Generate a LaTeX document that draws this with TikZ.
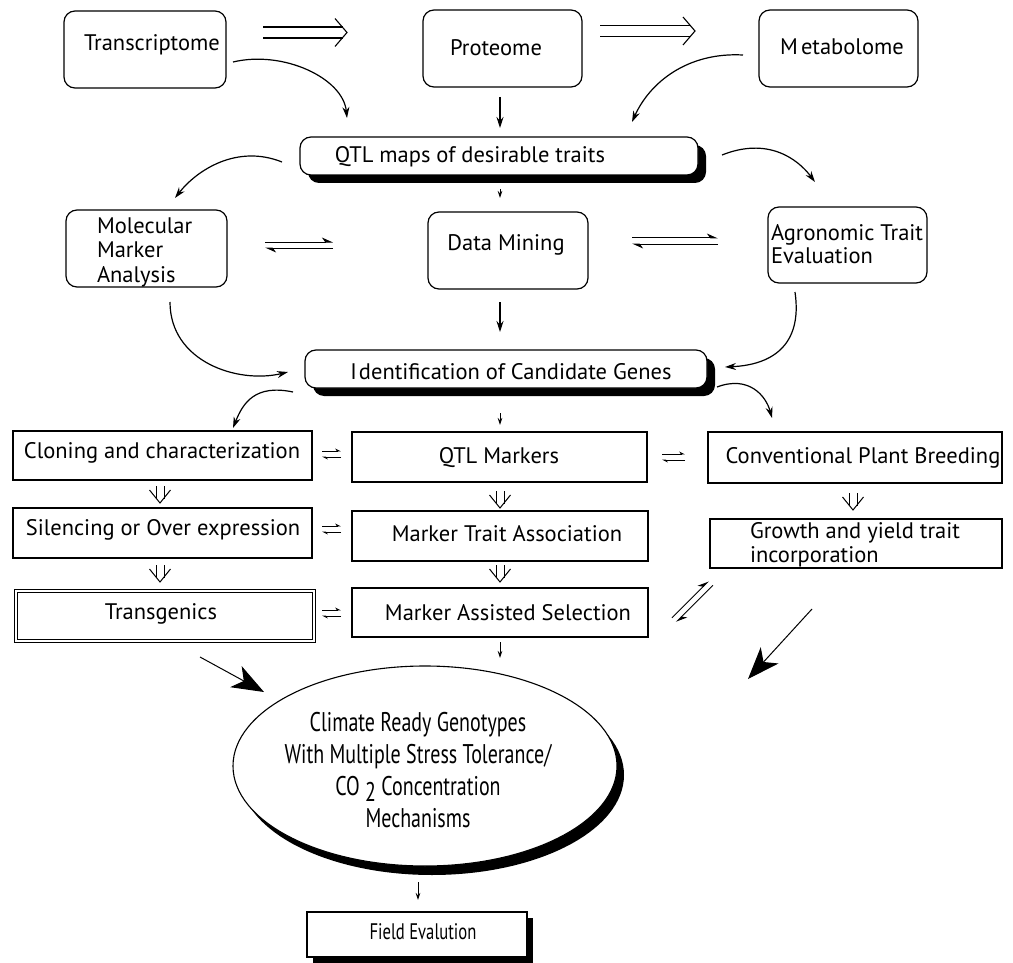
\documentclass[tikz,border=0pt]{standalone}
\usepackage{fontspec}
\setmainfont{PT Sans}
\newfontfamily\condensed[FakeStretch=0.74]{PT Sans}
\usetikzlibrary{arrows.meta,shapes.geometric,shadows}

\begin{document}
\begin{tikzpicture}[x=1pt,y=-1pt,
  every node/.style={inner sep=0pt, outer sep=0pt},
  font=\fontsize{22.5}{25}\selectfont,
  rbox/.style={draw, line width=1.2pt, rounded corners=11pt, fill=white},
  sbox/.style={draw, line width=1.2pt, fill=white},
  heavyshadow/.style={general shadow={shadow xshift=8pt, shadow yshift=-8pt, fill=black}},
  arr/.style={line width=1.2pt, -{Stealth[length=11pt,width=7pt]}},
  tinyarr/.style={line width=0.8pt, -{Stealth[length=7pt,width=4.5pt]}},
  harp/.style={line width=1pt, -{Stealth[harpoon,length=10pt,width=9pt]}},
  smallharp/.style={line width=0.8pt, -{Stealth[harpoon,length=5pt,width=5pt]}},
  bigarr/.style={line width=1pt, -{Stealth[length=32pt,width=24pt,inset=9pt]}},
  pics/dblright/.style={code={
    \draw[line width=1.1pt] (0,-5.5) -- (#1-4,-5.5) (0,5.5) -- (#1-4,5.5);
    \draw[line width=1.1pt] (#1-12,-14) -- (#1,0) -- (#1-12,14);}},
  pics/dbldown/.style={code={
    \draw[line width=1pt] (-4,0) -- (-4,13) (4,0) -- (4,13);
    \draw[line width=1pt] (-10.5,4) -- (0,17) -- (10.5,4);}},
  pics/equil/.style={code={
    \draw[harp] (0,-3) -- (#1,-3);
    \draw[harp] (#1,3) -- (0,3);}},
  pics/smallequil/.style={code={
    \draw[smallharp] (0,-3) -- (#1,-3);
    \draw[smallharp] (#1,3) -- (0,3);}},
]
\useasboundingbox (0,0) rectangle (1013,963);

% ---- omics row
\node[rbox, minimum width=162pt, minimum height=77pt] (trans) at (145,49.5) {};
\node[anchor=mid west] (transtxt) at (84,48) {Transcriptome};
\node[rbox, minimum width=159pt, minimum height=77pt] (prot) at (502.5,48.5) {};
\node (prottxt) at (496,48) {Proteome};
\node[rbox, minimum width=159pt, minimum height=77pt] (meta) at (838.5,48.5) {};
\node (metatxt) at (842,47) {M\kern3pt etabolome};

\pic at (263,32.5) {dblright=84};
\pic at (600,31) {dblright=95};

% ---- QTL maps
\node[rbox, heavyshadow, minimum width=398pt, minimum height=38pt] (qtl) at (499,156) {};
\node (qtltxt) at (470,157) {QTL maps of desirable traits};

% ---- second row
\node[rbox, minimum width=161pt, minimum height=77pt] (mol) at (146.5,248.5) {};
\node[anchor=west, align=left, font=\fontsize{22.5}{24.5}\selectfont] (moltxt) at (97,252) {Molecular\\Marker\\Analysis};
\node[rbox, minimum width=160pt, minimum height=77pt] (dm) at (508,250.5) {};
\node (dmtxt) at (506,245) {Data Mining};
\node[rbox, minimum width=159pt, minimum height=76pt] (agro) at (847.5,245) {};
\node[anchor=west, align=left, font=\fontsize{22.5}{23}\selectfont] (agrotxt) at (771,244) {Agronomic Trait\\Evaluation};

\pic at (265,245) {equil=68};
\pic at (632,241) {equil=86};

% ---- candidate genes
\node[rbox, heavyshadow, minimum width=402pt, minimum height=38pt] (ident) at (506,369) {};
\node (identtxt) at (511,372) {I\kern2pt dentification of Candidate Genes};

% ---- three columns of rectangles
\node[sbox, minimum width=299pt, minimum height=49pt] (clon) at (162.5,455.5) {};
\node (clontxt) at (162,453) {Cloning and characterization};
\node[sbox, minimum width=295pt, minimum height=50pt] (qtlm) at (499.5,457) {};
\node (qtlmtxt) at (499,458) {QTL Markers};
\node[sbox, minimum width=294pt, minimum height=51pt] (conv) at (855,457.5) {};
\node (convtxt) at (863,458) {Conventional Plant Breeding};

\node[sbox, minimum width=299pt, minimum height=50pt] (sil) at (162.5,533) {};
\node (siltxt) at (163,530) {Silencing or Over expression};
\node[sbox, minimum width=296pt, minimum height=50pt] (mta) at (500,536) {};
\node (mtatxt) at (507,534) {Marker Trait Association};
\node[sbox, minimum width=292pt, minimum height=49pt] (grow) at (856,543.5) {};
\node[anchor=west, align=left, font=\fontsize{22.5}{24}\selectfont] (growtxt) at (750,545) {Growth and yield trait\\incorporation};

\node[draw, fill=white, line width=0.9pt, double, double distance=2.2pt,
      minimum width=298pt, minimum height=50pt] (tgen) at (165,616) {};
\node (tgentxt) at (161,614) {Transgenics};
\node[sbox, minimum width=296pt, minimum height=49pt] (mas) at (500,612.5) {};
\node (mastxt) at (508,613) {Marker Assisted Selection};

\pic at (322,454) {smallequil=19};
\pic at (662,457) {smallequil=23};
\pic at (322,529) {smallequil=19};
\pic at (322,613) {smallequil=19};
\pic[rotate=45] at (674,620) {equil=52};

\pic at (160,486) {dbldown};
\pic at (500,491) {dbldown};
\pic at (853,493) {dbldown};
\pic at (160,565) {dbldown};
\pic at (500,565) {dbldown};

% ---- outcome
\node[ellipse, draw, fill=white, line width=1.1pt, minimum width=384pt, minimum height=200pt,
      general shadow={shadow xshift=7pt, shadow yshift=-9pt, fill=black}] (crg) at (425,766) {};
\node[align=center, font=\condensed\fontsize{27}{32}\selectfont] (crgtxt) at (418,770)
  {Climate Ready Genotypes\\With Multiple Stress Tolerance/\\CO \raisebox{-6pt}{2} Concentration\\Mechanisms};

\node[sbox, general shadow={shadow xshift=6pt, shadow yshift=-6pt, fill=black},
      minimum width=220pt, minimum height=45pt] (field) at (417,934.5) {};
\node[font=\condensed\fontsize{22.5}{26}\selectfont] (fieldtxt) at (423,932) {Field Evalution};

% ---- connector end points
\coordinate (c1a) at (233,62);  \coordinate (c1b) at (347,118);
\coordinate (c2a) at (743,55);  \coordinate (c2b) at (632,122);
\coordinate (c3a) at (282,162); \coordinate (c3b) at (175,198);
\coordinate (c4a) at (722,155); \coordinate (c4b) at (815,182);
\coordinate (c5a) at (170,302); \coordinate (c5b) at (288,372);
\coordinate (c6a) at (795,292); \coordinate (c6b) at (725,367);
\coordinate (c7a) at (293,392); \coordinate (c7b) at (233,428);
\coordinate (c8a) at (717,387); \coordinate (c8b) at (772,418);
\coordinate (p1) at (500,97);   \coordinate (p2) at (500,128);
\coordinate (q1) at (500,189);  \coordinate (q2) at (500,198);
\coordinate (d1) at (500,302);  \coordinate (d2) at (500,332);
\coordinate (i1) at (500,413);  \coordinate (i2) at (500,425);
\coordinate (m1) at (500,642);  \coordinate (m2) at (500,658);
\coordinate (e1) at (418,882);  \coordinate (e2) at (418,900);
\coordinate (bl1) at (200,657); \coordinate (bl2) at (264,692);
\coordinate (br1) at (812,609); \coordinate (br2) at (748,679);

\draw[arr] (c1a) .. controls +(50,-12) and +(-4,-40) .. (c1b);
\draw[arr] (c2a) .. controls +(-55,-3) and +(18,-40) .. (c2b);
\draw[arr] (c3a) .. controls +(-45,-18) and +(22,-28) .. (c3b);
\draw[arr] (c4a) .. controls +(45,-18) and +(-18,-24) .. (c4b);
\draw[arr] (c5a) .. controls +(0,60) and +(-50,12) .. (c5b);
\draw[arr] (c6a) .. controls +(8,55) and +(45,-2) .. (c6b);
\draw[arr] (c7a) .. controls +(-38,-8) and +(10,-25) .. (c7b);
\draw[arr] (c8a) .. controls +(32,-12) and +(-6,-22) .. (c8b);

\draw[arr] (p1) -- (p2);
\draw[tinyarr] (q1) -- (q2);
\draw[arr] (d1) -- (d2);
\draw[tinyarr] (i1) -- (i2);
\draw[tinyarr] (m1) -- (m2);
\draw[tinyarr] (e1) -- (e2);
\draw[bigarr] (bl1) -- (bl2);
\draw[bigarr] (br1) -- (br2);
\end{tikzpicture}
\end{document}
